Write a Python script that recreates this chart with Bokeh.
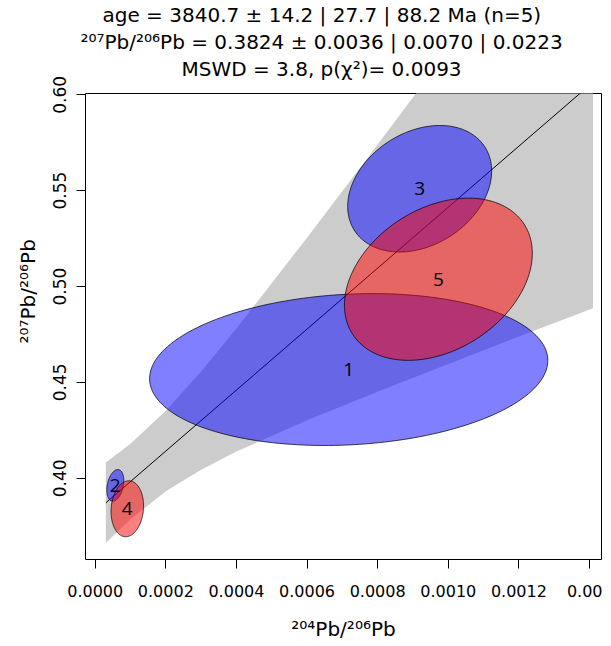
import numpy as np
from bokeh.plotting import figure
from bokeh.models import Range1d, FixedTicker, Title, ColumnDataSource
from bokeh.core.properties import value
from bokeh.embed import file_html
from bokeh.resources import INLINE

# ---- data ----
ids = ["1", "2", "3", "4", "5"]
x_val = [0.000718, 0.0000569, 0.000919, 0.0000909, 0.000972]    # 204Pb/206Pb
x_sig = [0.0002304, 0.00000985, 0.0000833, 0.0000188, 0.0001087]  # 1 sigma
y_val = [0.4567, 0.3963, 0.551, 0.3841, 0.5038]                 # 207Pb/206Pb
y_sig = [0.01618, 0.003375, 0.01348, 0.00596, 0.01728]           # 1 sigma
rho = [0.12, 0.30, 0.28, 0.10, 0.32]
fill_cols = ["blue", "blue", "blue", "red", "red"]

intercept = 0.3824
slope = 159.0
line_x = [0.00003, 0.00141]

band_x = [0.00003, 0.0001, 0.0002, 0.0003, 0.0004, 0.0006, 0.0008, 0.0010, 0.0012, 0.00141]
band_hi = [0.4082, 0.4180, 0.4352, 0.4557, 0.4781, 0.5255, 0.5741, 0.6232, 0.6726, 0.7245]
band_lo = [0.3662, 0.3786, 0.3932, 0.4045, 0.4139, 0.4302, 0.4451, 0.4596, 0.4739, 0.4887]

x_ticks = [0.0, 0.0002, 0.0004, 0.0006, 0.0008, 0.0010, 0.0012, 0.0014]
x_tick_labels = ["0.0000", "0.0002", "0.0004", "0.0006", "0.0008", "0.0010", "0.0012", "0.00"]
y_ticks = [0.40, 0.45, 0.50, 0.55, 0.60]
y_tick_labels = ["0.40", "0.45", "0.50", "0.55", "0.60"]

title_lines = [
    "age = 3840.7 \u00b1 14.2 | 27.7 | 88.2 Ma (n=5)",
    "\u00b2\u2070\u2077Pb/\u00b2\u2070\u2076Pb = 0.3824 \u00b1 0.0036 | 0.0070 | 0.0223",
    "MSWD = 3.8, p(\u03c7\u00b2)= 0.0093",
]
x_label = "\u00b2\u2070\u2074Pb/\u00b2\u2070\u2076Pb"
y_label = "\u00b2\u2070\u2077Pb/\u00b2\u2070\u2076Pb"

FONT = "DejaVu Sans"

p = figure(width=602, height=643, output_backend="svg", toolbar_location=None,
           x_range=Range1d(-0.0000275, 0.001434), y_range=Range1d(0.35763, 0.60067),
           min_border_left=85, min_border_right=1, min_border_top=91, min_border_bottom=81,
           title=None)
p.grid.visible = False
p.outline_line_color = "black"
p.outline_line_width = 1
p.background_fill_color = "white"
p.border_fill_color = "white"

# confidence band
p.varea(x=band_x, y1=band_lo, y2=band_hi, fill_color="#cccccc", fill_alpha=1.0)

# isochron line
p.line(x=line_x, y=[intercept + slope * v for v in line_x], line_color="black", line_width=1)

# error ellipses (95% confidence, k = sqrt(chi2_0.95,2))
k = 2.4477
t = np.linspace(0, 2 * np.pi, 200)
xs, ys = [], []
for cx, sx, cy, sy, r in zip(x_val, x_sig, y_val, y_sig, rho):
    xs.append(list(cx + k * sx * np.cos(t)))
    ys.append(list(cy + k * sy * (r * np.cos(t) + np.sqrt(1 - r * r) * np.sin(t))))
src = ColumnDataSource(dict(xs=xs, ys=ys, fc=fill_cols))
p.patches(xs="xs", ys="ys", source=src, fill_color="fc", fill_alpha=0.5,
          line_color="black", line_width=0.8, line_alpha=0.9)

p.text(x=x_val, y=y_val, text=ids, text_align="center", text_baseline="middle",
       text_font=value("Open Sans"), text_font_size="19px", text_color="black")

# axes
p.xaxis.ticker = FixedTicker(ticks=x_ticks)
p.yaxis.ticker = FixedTicker(ticks=y_ticks)
p.xaxis.major_label_overrides = {t_: l for t_, l in zip(x_ticks, x_tick_labels)}
p.yaxis.major_label_overrides = {t_: l for t_, l in zip(y_ticks, y_tick_labels)}
for ax in (p.xaxis, p.yaxis):
    ax.axis_line_color = None
    ax.major_tick_in = 0
    ax.major_tick_out = 9
    ax.minor_tick_in = 0
    ax.minor_tick_out = 0
    ax.major_tick_line_color = "black"
    ax.major_label_text_font = FONT
    ax.major_label_text_color = "black"
    ax.axis_label_text_font = FONT
    ax.axis_label_text_font_style = "normal"
    ax.axis_label_text_color = "black"
p.xaxis.major_label_text_font_size = "16px"
p.yaxis.major_label_text_font_size = "17px"
p.xaxis.axis_label = x_label
p.xaxis.axis_label_text_font_size = "20px"
p.yaxis.major_label_orientation = "vertical"
p.xaxis.major_label_standoff = 16
p.yaxis.major_label_standoff = 10
p.xaxis.axis_label_standoff = 17

# y-axis label as a left title, placed along the axis
p.add_layout(Title(text=y_label, align="left", offset=216, standoff=22,
                   text_font=FONT, text_font_size="20px", text_font_style="normal",
                   text_color="black"), "left")

# three-line title (added from the plot upward), with a small spacer first
p.add_layout(Title(text=" ", standoff=0, text_font_size="10px"), "above")
for txt, so, off in zip(reversed(title_lines), [0, 2, 0], [96, -5, 17]):
    p.add_layout(Title(text=txt, align="left", offset=off, standoff=so,
                       text_font=FONT, text_font_size="20px", text_font_style="normal",
                       text_color="black"), "above")

open("out.html", "w").write(file_html(p, INLINE))
